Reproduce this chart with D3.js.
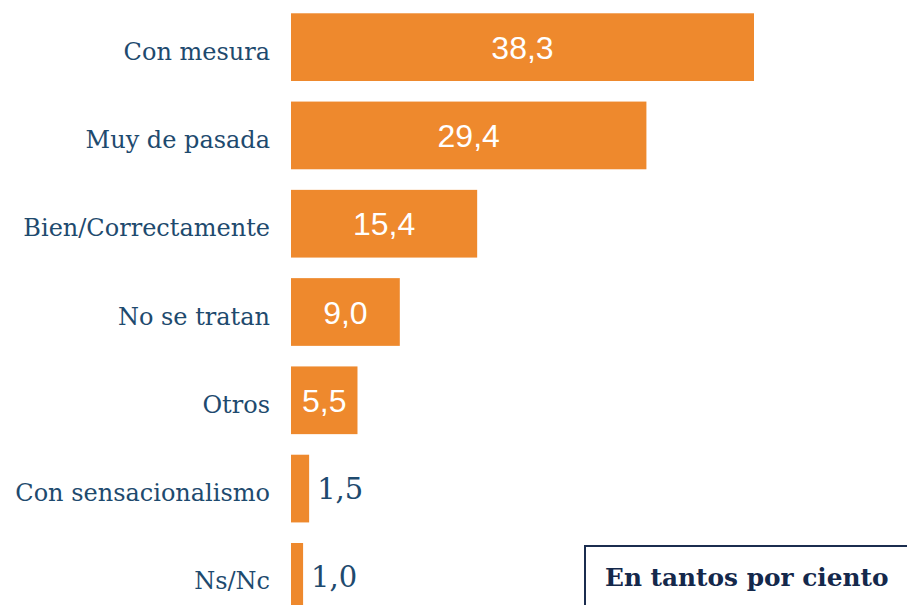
<!DOCTYPE html>
<html>
<head>
<meta charset="utf-8">
<script src="https://cdn.jsdelivr.net/npm/d3@7"></script>
<style>
  body { margin: 0; background: #fff; }
  svg { display: block; }
</style>
</head>
<body>
<svg id="chart" width="907" height="605"></svg>
<script>
// data
var categories = ["Con mesura", "Muy de pasada", "Bien/Correctamente", "No se tratan",
                  "Otros", "Con sensacionalismo", "Ns/Nc"];
var values = [38.3, 29.4, 15.4, 9.0, 5.5, 1.5, 1.0];
var valueLabels = ["38,3", "29,4", "15,4", "9,0", "5,5", "1,5", "1,0"];
var unitNote = "En tantos por ciento";

var svg = d3.select("#chart");

var x = d3.scaleLinear().domain([0, 38.3]).range([291, 754]);
var y = d3.scaleBand().domain(categories)
    .range([3, 621]).paddingInner(0.233).paddingOuter(0.1165);

var rows = svg.append("g").selectAll("g")
    .data(categories)
    .enter().append("g");

rows.append("rect")
    .attr("x", x(0))
    .attr("y", function(d) { return y(d); })
    .attr("width", function(d, i) { return x(values[i]) - x(0); })
    .attr("height", y.bandwidth())
    .style("fill", "#ee892d");

// category labels
rows.append("text")
    .attr("x", 270)
    .attr("y", function(d) { return y(d) + y.bandwidth() / 2 + 4; })
    .attr("dy", "0.36em")
    .attr("text-anchor", "end")
    .style("font-family", "'DejaVu Serif'")
    .style("font-size", "24px")
    .style("fill", "#1e4a6e")
    .text(function(d) { return d; });

// value labels: inside when there is room, outside for tiny bars
rows.append("text")
    .attr("x", function(d, i) {
        return values[i] > 3 ? (x(0) + x(values[i])) / 2 : x(values[i]) + 8;
    })
    .attr("y", function(d) { return y(d) + y.bandwidth() / 2; })
    .attr("dy", "0.36em")
    .attr("text-anchor", function(d, i) { return values[i] > 3 ? "middle" : "start"; })
    .style("font-family", function(d, i) {
        return values[i] > 3 ? "'Liberation Sans', Arial, sans-serif" : "'DejaVu Serif'";
    })
    .style("font-size", function(d, i) { return values[i] > 3 ? "32px" : "29px"; })
    .style("fill", function(d, i) { return values[i] > 3 ? "#ffffff" : "#1e4a6e"; })
    .text(function(d, i) { return valueLabels[i]; });

// unit box
var note = svg.append("g");
note.append("rect")
    .attr("x", 585)
    .attr("y", 546)
    .attr("width", 340)
    .attr("height", 80)
    .style("fill", "none")
    .style("stroke", "#1b2d4f")
    .style("stroke-width", 2);
note.append("text")
    .attr("x", 605)
    .attr("y", 586)
    .style("font-family", "'DejaVu Serif'")
    .style("font-weight", "bold")
    .style("font-size", "24.8px")
    .style("fill", "#14284b")
    .text(unitNote);
</script>
</body>
</html>
